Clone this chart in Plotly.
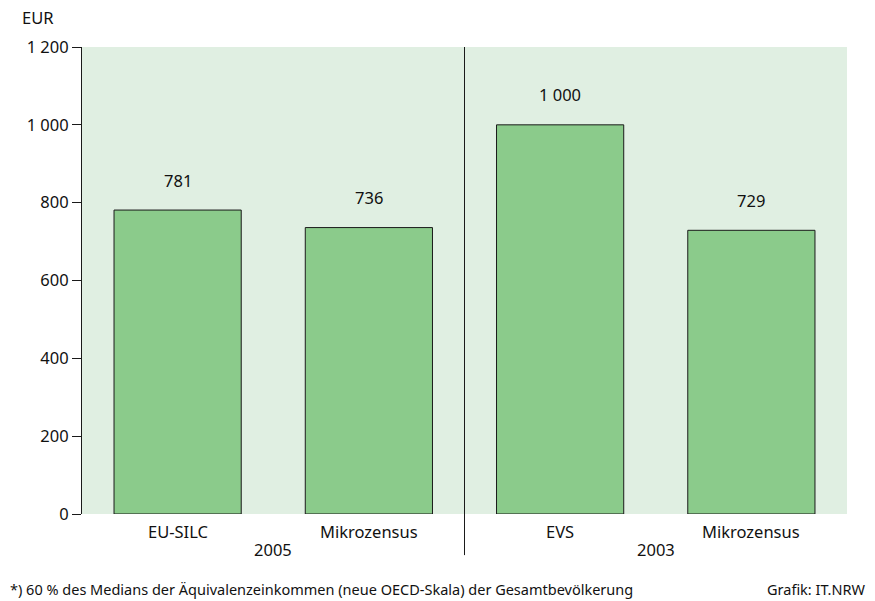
import plotly.graph_objects as go

categories = ["EU-SILC", "Mikrozensus", "EVS", "Mikrozensus "]
values = [781, 736, 1000, 729]
value_labels = ["781", "736", "1 000", "729"]
years = ["2005", "2003"]
tick_vals = [0, 200, 400, 600, 800, 1000, 1200]
tick_text = ["0", "200", "400", "600", "800", "1 000", "1 200"]

FONT = "Noto Sans"
TXT = "#111111"
FS = 16.5

fig = go.Figure()
fig.add_trace(go.Bar(
    x=list(range(len(categories))), y=values, width=0.665,
    marker=dict(color="#8bcb8b", line=dict(color="#1a1a1a", width=1)),
    textposition="none", hoverinfo="skip",
))

for i, (v, t) in enumerate(zip(values, value_labels)):
    fig.add_annotation(x=i, y=v, text=t, showarrow=False, yshift=30,
                       font=dict(family=FONT, size=FS, color=TXT))

for i, c in enumerate(categories):
    fig.add_annotation(x=i, y=0, yref="y", text=c.strip(), showarrow=False,
                       yshift=-17, font=dict(family=FONT, size=FS, color=TXT))

for k, yr in enumerate(years):
    fig.add_annotation(x=2 * k + 0.5, y=0, yref="y", text=yr, showarrow=False,
                       yshift=-35, font=dict(family=FONT, size=FS, color=TXT))

fig.add_shape(type="line", xref="x", yref="paper", x0=1.5, x1=1.5, y0=-0.088, y1=1,
              line=dict(color="#1a1a1a", width=1))

fig.add_annotation(xref="paper", yref="paper", x=-0.058, y=1.035, text="EUR",
                   showarrow=False, xanchor="center", yanchor="bottom",
                   font=dict(family=FONT, size=FS, color=TXT))
fig.add_annotation(xref="paper", yref="paper", x=-0.097, y=-0.16,
                   text="*) 60 % des Medians der Äquivalenzeinkommen (neue OECD-Skala) der Gesamtbevölkerung",
                   showarrow=False, xanchor="left", yanchor="middle",
                   font=dict(family=FONT, size=14.5, color=TXT))
fig.add_annotation(xref="paper", yref="paper", x=1.027, y=-0.16, text="Grafik: IT.NRW",
                   showarrow=False, xanchor="right", yanchor="middle",
                   font=dict(family=FONT, size=14.5, color=TXT))

fig.update_layout(
    width=875, height=601,
    margin=dict(l=82, r=28, t=47, b=87),
    paper_bgcolor="white", plot_bgcolor="#e0efe2",
    showlegend=False,
    font=dict(family=FONT, size=FS, color=TXT),
)
fig.update_xaxes(range=[-0.5, 3.5], showticklabels=False, showgrid=False,
                 zeroline=False, showline=False, ticks="")
fig.update_yaxes(range=[0, 1200], tickvals=tick_vals, ticktext=tick_text,
                 showgrid=False, zeroline=False, showline=True, linecolor="#1a1a1a",
                 linewidth=1, ticks="outside", ticklen=9, tickcolor="#1a1a1a",
                 tickfont=dict(family=FONT, size=FS, color=TXT))

fig.write_html("out.html", config={"displayModeBar": False},
               post_script="document.body.style.margin='0';document.body.style.overflow='hidden';")
